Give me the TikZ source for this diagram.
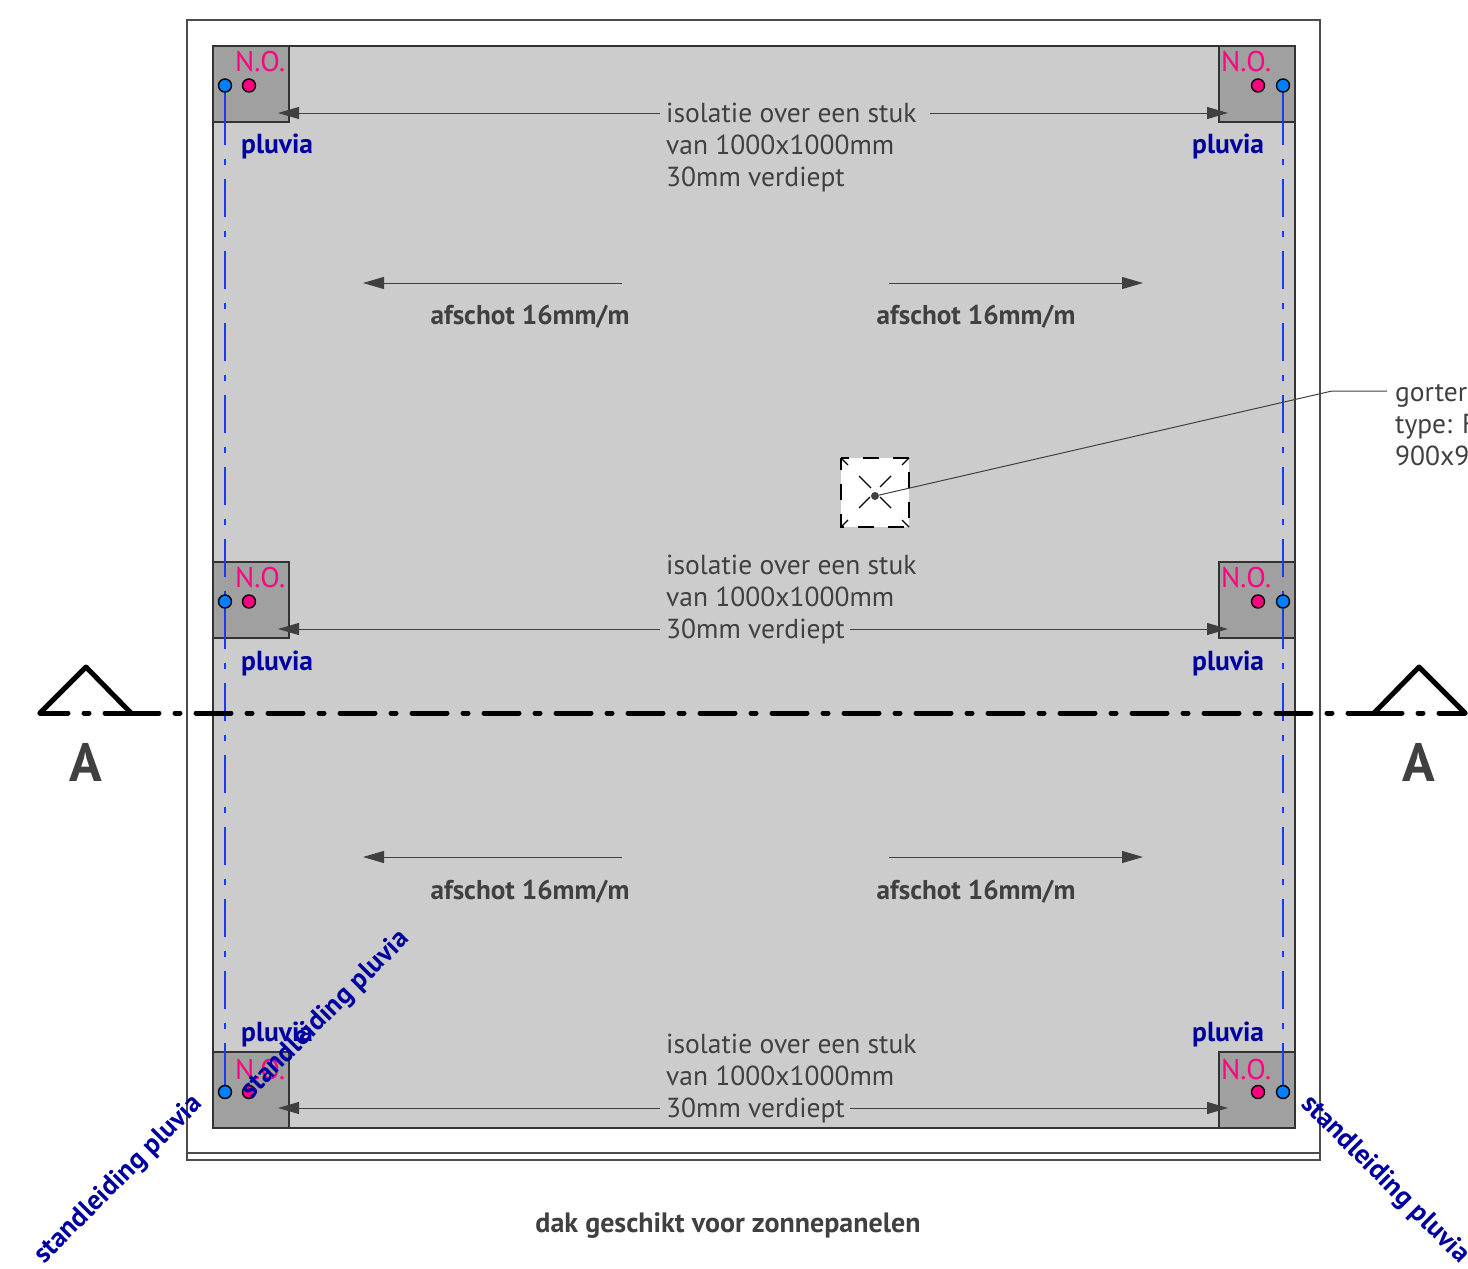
\documentclass[tikz,border=0pt]{standalone}
\usepackage{fontspec}
\setmainfont{PT Sans}
\usetikzlibrary{arrows.meta}
\pgfdeclarelayer{top}
\pgfsetlayers{main,top}
\definecolor{roofgray}{HTML}{CCCCCC}
\definecolor{cornergray}{HTML}{A0A0A0}
\definecolor{textgray}{HTML}{404040}
\definecolor{pipeblue}{HTML}{1A3CF0}
\definecolor{rainblue}{HTML}{0080FF}
\definecolor{nopink}{HTML}{FF0080}
\definecolor{pluviablue}{HTML}{0000A0}
\begin{document}
\begin{tikzpicture}[
    x=1pt,y=-1pt,
    edge/.style={draw=black!70,line width=1.5pt},
    roof/.style={draw=black!80,fill=roofgray,line width=1.5pt},
    corner/.style={draw=black!80,fill=cornergray,line width=1.5pt,minimum size=76pt,inner sep=0pt},
    no/.style={text=nopink,font=\fontsize{28.5}{32}\selectfont,anchor=base west,inner sep=0pt},
    pluvia/.style={text=pluviablue,font=\fontsize{27.5}{30}\selectfont\bfseries,anchor=base west,inner sep=0pt},
    stand/.style={text=pluviablue,font=\fontsize{27.5}{30}\selectfont\bfseries,inner sep=0pt},
    rain/.style={circle,draw=black,fill=rainblue,line width=1.4pt,minimum size=13pt,inner sep=0pt},
    over/.style={circle,draw=black,fill=nopink,line width=1.4pt,minimum size=13pt,inner sep=0pt},
    pipe/.style={draw=pipeblue,line width=2.6pt,dash pattern=on 38pt off 14pt on 6pt off 14pt,dash phase=51pt},
    stub/.style={draw=pipeblue,line width=2.6pt},
    dim/.style={draw=textgray,line width=1pt,-{Triangle[length=21pt,width=12pt]}},
    iso/.style={text=textgray,font=\fontsize{27.5}{32}\selectfont,align=left,anchor=west,inner sep=6pt},
    slope/.style={text=textgray,font=\fontsize{27.2}{30}\selectfont\bfseries,inner sep=0pt},
    cutline/.style={draw=black,line width=5pt,line cap=round,dash pattern=on 35pt off 16pt on 5pt off 16pt,dash phase=7pt},
    cuthead/.style={draw=black,line width=5pt,line cap=round,line join=round},
    cutname/.style={text=textgray,font=\fontsize{54}{54}\selectfont\bfseries,inner sep=0pt},
]
	\useasboundingbox (0,0) rectangle (1468,1269);

	\draw[edge] (187,20) rectangle (1320,1160);
	\draw[edge] (187,1153)--(1320,1153);
	\draw[roof] (213,46) rectangle (1295,1128);

	\node[corner] at (251,84) (boxTL) {};
	\node[corner] at (1257,84) (boxTR) {};
	\node[corner] at (251,600) (boxML) {};
	\node[corner] at (1257,600) (boxMR) {};
	\node[corner] at (251,1090) (boxBL) {};
	\node[corner] at (1257,1090) (boxBR) {};

	\node[no] at (235,71.5) (noTL) {N.O.};
	\node[no] at (1221,71.5) (noTR) {N.O.};
	\node[no] at (235,587.5) (noML) {N.O.};
	\node[no] at (1221,587.5) (noMR) {N.O.};
	\node[no] at (235,1079.5) (noBL) {N.O.};
	\node[no] at (1221,1079.5) (noBR) {N.O.};

	\begin{pgfonlayer}{top}
	\node[rain] at (225,85.5) (rainTL) {};
	\node[rain] at (1283,85.5) (rainTR) {};
	\node[rain] at (225,601.5) (rainML) {};
	\node[rain] at (1283,601.5) (rainMR) {};
	\node[rain] at (225,1092) (rainBL) {};
	\node[rain] at (1283,1092) (rainBR) {};
	\end{pgfonlayer}

	\node[over] at (249,85.5) (overTL) {};
	\node[over] at (1258,85.5) (overTR) {};
	\node[over] at (249,601.5) (overML) {};
	\node[over] at (1258,601.5) (overMR) {};
	\node[over] at (249,1092) (overBL) {};
	\node[over] at (1258,1092) (overBR) {};

	% pipes
	\draw[pipe] (rainTL.center)--(rainBL.center);
	\draw[pipe] (rainTR.center)--(rainBR.center);
	\draw[stub] (rainTL.center)--++(0,21);
	\draw[stub] (rainTR.center)--++(0,21);
	\draw[stub] (rainML.center)--++(0,9);
	\draw[stub] (rainMR.center)--++(0,9);
	\draw[stub] (rainBL.center)--++(0,-11);
	\draw[stub] (rainBR.center)--++(0,-11);

	\node[pluvia] at (241,153.5) (pluviaTL) {pluvia};
	\node[pluvia] at (1192,153.5) (pluviaTR) {pluvia};
	\node[pluvia] at (241,670.5) (pluviaML) {pluvia};
	\node[pluvia] at (1192,670.5) (pluviaMR) {pluvia};
	\node[pluvia] at (241,1041.5) (pluviaBL) {pluvia};
	\node[pluvia] at (1192,1041.5) (pluviaBR) {pluvia};

	% isolatie
	\node[iso] at (660,147.5) (isoT) {isolatie over een stuk\\van 1000x1000mm\\30mm verdiept};
	\node[iso] at (660,599.5) (isoM) {isolatie over een stuk\\van 1000x1000mm\\30mm verdiept};
	\node[iso] at (660,1078.5) (isoB) {isolatie over een stuk\\van 1000x1000mm\\30mm verdiept};
	\coordinate (tipTL) at (278,113);
	\coordinate (tipTR) at (1228,113);
	\coordinate (tipML) at (278,629);
	\coordinate (tipMR) at (1228,629);
	\coordinate (tipBL) at (278,1108);
	\coordinate (tipBR) at (1228,1108);
	\draw[dim] (isoT.west |- tipTL)--(tipTL);
	\draw[dim] (930,113) coordinate (fromT)--(tipTR);
	\draw[dim] (isoM.west |- tipML)--(tipML);
	\draw[dim] (850,629) coordinate (fromM)--(tipMR);
	\draw[dim] (isoB.west |- tipBL)--(tipBL);
	\draw[dim] (850,1108) coordinate (fromB)--(tipBR);

	% afschot
	\node[slope] at (530,317) (slopeTL) {afschot 16mm/m};
	\node[slope] at (976,317) (slopeTR) {afschot 16mm/m};
	\node[slope] at (530,892) (slopeBL) {afschot 16mm/m};
	\node[slope] at (976,892) (slopeBR) {afschot 16mm/m};
	\draw[dim] (622,283)--(363,283);
	\draw[dim] (889,283)--(1143,283);
	\draw[dim] (622,857)--(363,857);
	\draw[dim] (889,857)--(1143,857);

	% gorter
	\fill[white] (841,458) rectangle (909,527);
	\draw[black,line width=1.2pt,dash pattern=on 16pt off 14pt,dash phase=4pt] (841,458) rectangle (909,527);
	\draw[black,line width=1.2pt] (841,458)--(848,465) (909,458)--(902,465) (841,527)--(848,520) (909,527)--(902,520);
	\draw[black,line width=1.2pt] (859,476)--(871,488) (891,476)--(880,487) (859,508)--(870,497) (891,508)--(880,497);
	\node[circle,fill=textgray,minimum size=8pt,inner sep=0pt] at (875,496) (drain) {};
	\node[iso,inner sep=0pt] at (1395,425) (gorter) {gorter\\type: F\\900x90};
	\coordinate (bend) at (1332,391);
	\draw[draw=textgray,line width=1pt] (drain)--(bend)--(1387,391) coordinate (gorterEnd);

	% doorsnede
	\coordinate (cutLa) at (40,713);
	\coordinate (cutLb) at (86,667);
	\coordinate (cutLc) at (131,713);
	\coordinate (cutRa) at (1374,713);
	\coordinate (cutRb) at (1419,667);
	\coordinate (cutRc) at (1465,713);
	\draw[cuthead] (cutLa)--(cutLb)--(cutLc);
	\draw[cuthead] (cutRa)--(cutRb)--(cutRc);
	\draw[cutline] (cutLa)--(cutLc);
	\draw[cutline] (cutLc)--(cutRa);
	\draw[cutline] (cutRa)--(cutRc);
	\node[cutname] at (86,762) (cutA) {A};
	\node[cutname] at (1419,762) (cutB) {A};

	\node[stand,rotate=45] at (119,1180) (standL) {standleiding pluvia};
	\node[stand,rotate=45] at (326,1015) (standM) {standleiding pluvia};
	\node[stand,rotate=-45] at (1385,1180) (standR) {standleiding pluvia};

	\node[slope,font=\fontsize{28}{30}\selectfont\bfseries] at (728,1226) (title) {dak geschikt voor zonnepanelen};
\end{tikzpicture}
\end{document}
